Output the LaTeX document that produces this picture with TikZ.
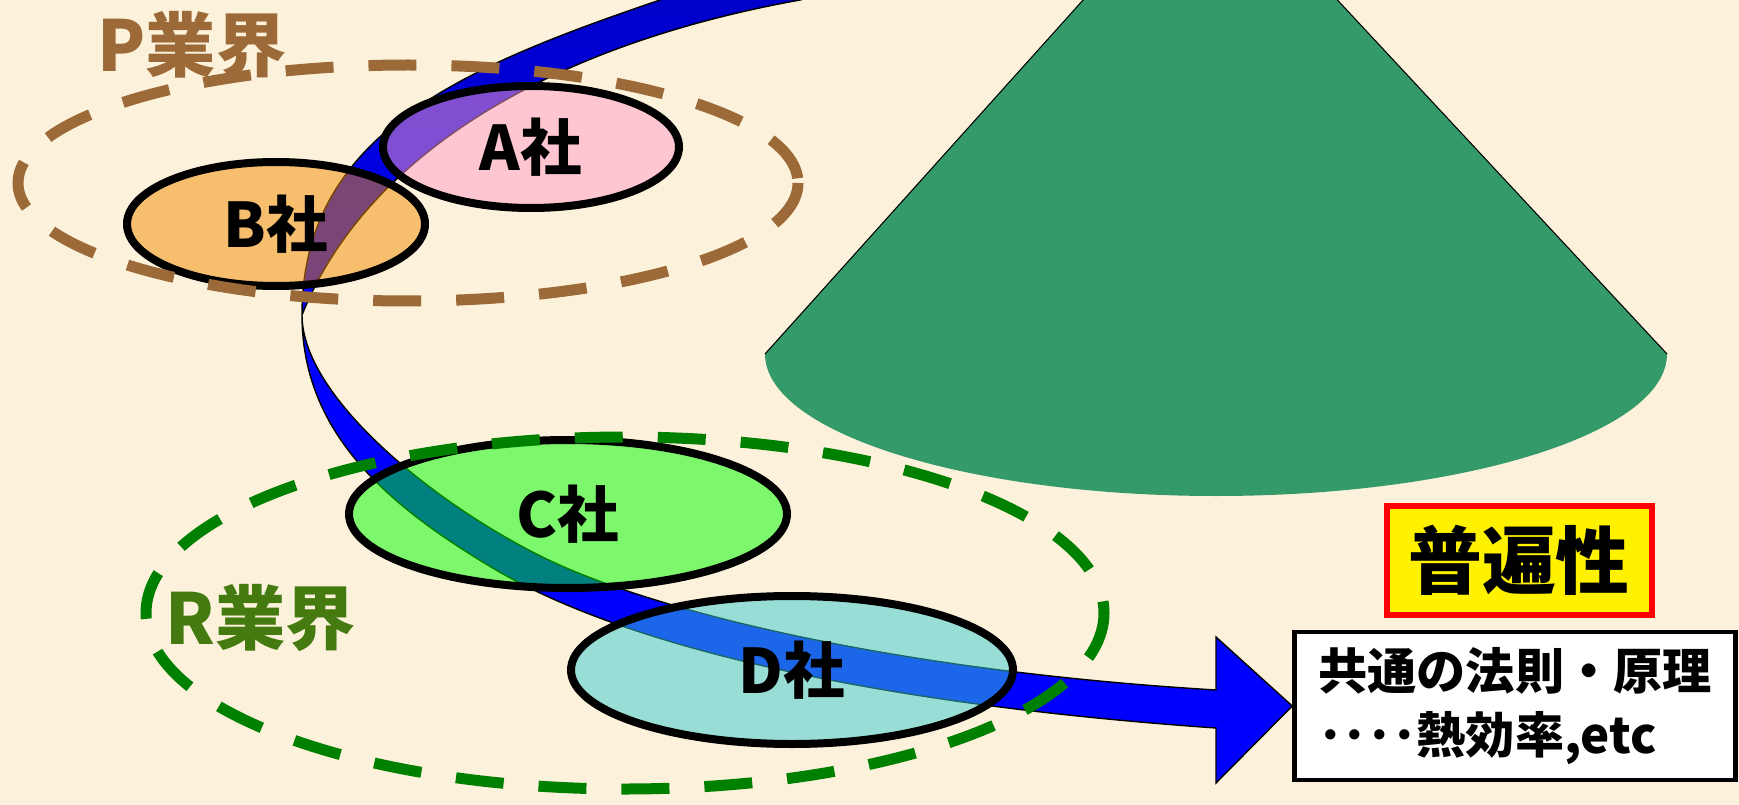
\documentclass[tikz,border=0pt]{standalone}
\usepackage{fontspec}
\setmainfont{Noto Sans CJK JP}
\usepackage{tikz}
\usetikzlibrary{shapes.geometric}
\definecolor{PaperBG}{HTML}{FCF1DA}
\definecolor{ConeGreen}{HTML}{359A6A}
\definecolor{FlowBlue}{HTML}{0000FF}
\definecolor{FlowDark}{HTML}{0000C8}
\definecolor{PBrown}{HTML}{9B6A38}
\definecolor{RGreen}{HTML}{008000}
\definecolor{RText}{HTML}{447A10}
\definecolor{FirmA}{HTML}{FF9DC8}
\definecolor{FirmB}{HTML}{F48D04}
\definecolor{FirmC}{HTML}{00FF00}
\definecolor{FirmD}{HTML}{36CDD4}

\begin{document}
\begin{tikzpicture}[x=0.1mm,y=-0.1mm,
  firm/.style={ellipse,draw=black,line width=0.8mm,fill opacity=0.5,text opacity=1,
    inner sep=0pt,font=\fontsize{17.5pt}{20pt}\selectfont\bfseries},
  group/.style={line width=1.1mm,dash pattern=on 4.8mm off 3.5mm},
  grouplabel/.style={font=\fontsize{20pt}{24pt}\selectfont\bfseries}]
\useasboundingbox (0,0) rectangle (1739,805);
\clip (0,0) rectangle (1739,805);
\fill[PaperBG] (0,0) rectangle (1739,805);

% cone
\fill[ConeGreen] (765,354) -- (1208,-139) -- (1667,354)
  arc[start angle=0,end angle=180,x radius=451,y radius=142] -- cycle;
\draw[line width=0.3pt] (765,354) -- (1208,-139) -- (1667,354);

% boxes on the right
\node[draw=red,line width=0.6mm,fill=yellow,minimum width=26.5mm,minimum height=10.9mm,
  inner sep=0pt,font=\fontsize{21pt}{24pt}\selectfont\bfseries] (keyword) at (1519,560) {普遍性};
\node[draw=black,line width=0.45mm,fill=white,minimum width=44.1mm,minimum height=14.8mm,
  inner sep=0pt,align=left,font=\fontsize{14pt}{18pt}\selectfont\bfseries] (lawbox) at (1515,706)
  {共通の法則・原理\\････熱効率,etc};

% flow band, pinched below B
\path[draw=black,line width=0.4pt,top color=FlowDark,bottom color=FlowBlue,middle color=FlowBlue]
  (700,-15) -- (660,0) .. controls (460,68) and (302,135) .. (302,315)
  .. controls (302,435) and (391,507) .. (491,567)
  .. controls (641,657) and (916,707) .. (1216,728)
  -- (1216,783) -- (lawbox.west) -- (1216,637) -- (1216,690)
  .. controls (916,672) and (691,620) .. (571,570)
  .. controls (461,524) and (302,405) .. (302,315)
  .. controls (366,155) and (550,45) .. (800,0)
  -- (860,-18) -- cycle;

% companies
\node[firm,fill=FirmA,minimum width=29.6mm,minimum height=12.2mm] (firmA) at (531,147) {A社};
\node[firm,fill=FirmB,minimum width=29.8mm,minimum height=12.4mm] (firmB) at (276,224) {B社};
\node[firm,fill=FirmC,minimum width=43.8mm,minimum height=14.8mm] (firmC) at (568,514) {C社};
\node[firm,fill=FirmD,minimum width=44.2mm,minimum height=14.8mm] (firmD) at (792,670) {D社};

% industries
\draw[group,PBrown] (408,183) ellipse[x radius=390,y radius=118];
\draw[group,RGreen] (625,613) ellipse[x radius=479,y radius=176];
\node[grouplabel,text=PBrown] (groupP) at (192,45) {P業界};
\node[grouplabel,text=RText] (groupR) at (261,618) {R業界};
\end{tikzpicture}
\end{document}
